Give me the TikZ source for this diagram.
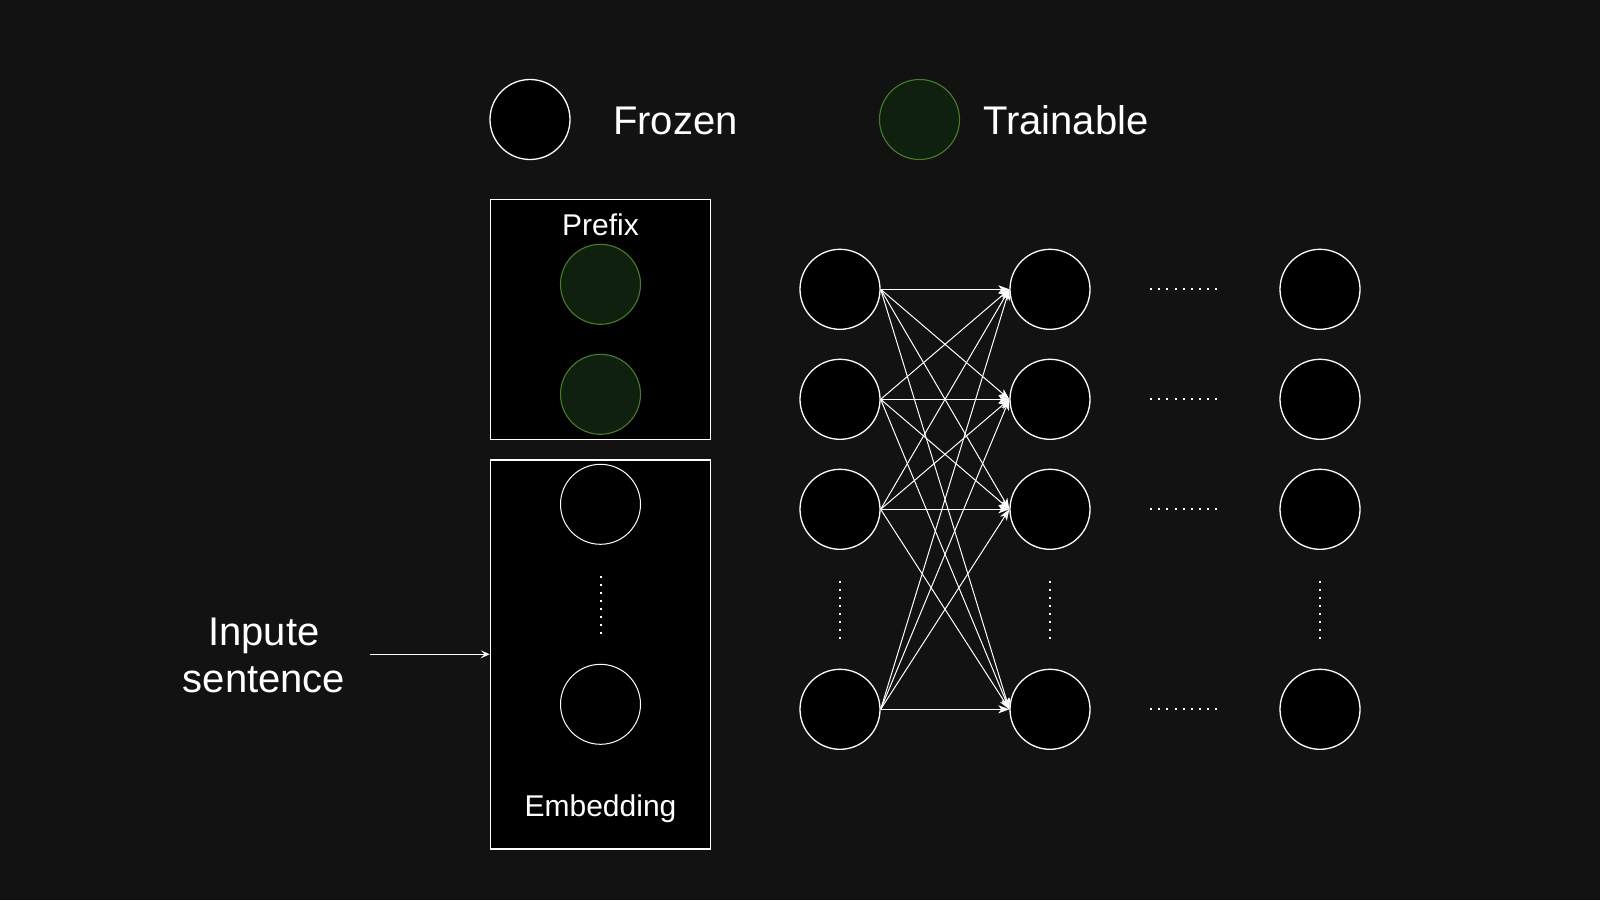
\documentclass[tikz,border=0pt]{standalone}
\usepackage{fontspec}
\setmainfont{Liberation Sans}
\usetikzlibrary{arrows.meta}
\definecolor{bg}{HTML}{121212}
\definecolor{trfill}{HTML}{0F200F}
\definecolor{trdraw}{HTML}{4A7A2E}
\begin{document}
\begin{tikzpicture}[x=1pt,y=-1pt,
  frozen/.style={circle,draw=white,fill=black,line width=1.3pt,minimum size=80pt,inner sep=0pt},
  trainable/.style={circle,draw=trdraw,fill=trfill,line width=1.1pt,minimum size=80pt,inner sep=0pt},
  boxnode/.style={draw=white,fill=black,line width=1.3pt,inner sep=0pt},
  biglbl/.style={text=white,inner sep=0pt,font=\fontsize{40}{47.7}\selectfont},
  smalllbl/.style={text=white,inner sep=0pt,font=\fontsize{30}{36}\selectfont},
  conn/.style={draw=white,line width=1pt,-{Stealth[length=11pt,width=8pt,inset=3pt]}},
  inarrow/.style={draw=white,line width=1pt,-{Stealth[length=9pt,width=8pt,inset=4pt]}},
  hdots/.style={draw=white,line width=2pt,dash pattern=on 2pt off 6.17pt},
  vdots/.style={draw=white,line width=2pt,dash pattern=on 2pt off 6.09pt}]
\fill[bg] (0,0) rectangle (1600,900);
\useasboundingbox (0,0) rectangle (1600,900);

% legend
\node[frozen] (lfrozen) at (530,119.5) {};
\node[biglbl,anchor=base west] (lfrozentxt) at (613,134.8) {Frozen};
\node[trainable] (ltrain) at (919.5,119.5) {};
\node[biglbl,anchor=base west] (ltraintxt) at (983,134.8) {Trainable};

% prefix box
\node[boxnode,minimum width=220.4pt,minimum height=240pt] (prefix) at (600.5,319.3) {};
\node[smalllbl,anchor=base] (prefixtxt) at (600.5,235) {Prefix};
\node[trainable] (p1) at (600.5,284.3) {};
\node[trainable] (p2) at (600.5,394.3) {};

% embedding box
\node[boxnode,minimum width=220.4pt,minimum height=389pt] (embed) at (600.5,654.5) {};
\node[frozen,line width=1pt] (e1) at (600.5,504.3) {};
\node[frozen,line width=1pt] (e2) at (600.5,704.3) {};
\coordinate (ed1) at (600.5,575.7);
\coordinate (ed2) at (600.5,633.7);
\draw[vdots,dash pattern=on 2pt off 6pt] (ed1) -- (ed2);
\node[smalllbl,anchor=base] (embedtxt) at (600.5,816) {Embedding};

% input sentence
\node[biglbl,align=center,anchor=base] (inp) at (264,692.7) {Inpute\\sentence};
\coordinate (inpstart) at (370.4,654.3);
\draw[inarrow] (inpstart) -- (embed.west |- inpstart);

% network columns
\foreach \y [count=\i] in {289.3,399.3,509.3,709.3} {
  \node[frozen] (a\i) at (840,\y) {};
  \node[frozen] (b\i) at (1050,\y) {};
  \node[frozen] (c\i) at (1320,\y) {};
  \coordinate (hd\i s) at (1150,\y-0.6);
  \coordinate (hd\i e) at (1217.3,\y-0.6);
  \draw[hdots] (hd\i s) -- (hd\i e);
}
\foreach \x/\n in {840/a,1050/b,1320/c} {
  \coordinate (\n vs) at (\x,580.7);
  \coordinate (\n ve) at (\x,639.3);
  \draw[vdots] (\n vs) -- (\n ve);
}
\foreach \i in {1,2,3,4} {
  \foreach \j in {1,2,3,4} {
    \draw[conn] (a\i.east) -- (b\j.west);
  }
}
\end{tikzpicture}
\end{document}
